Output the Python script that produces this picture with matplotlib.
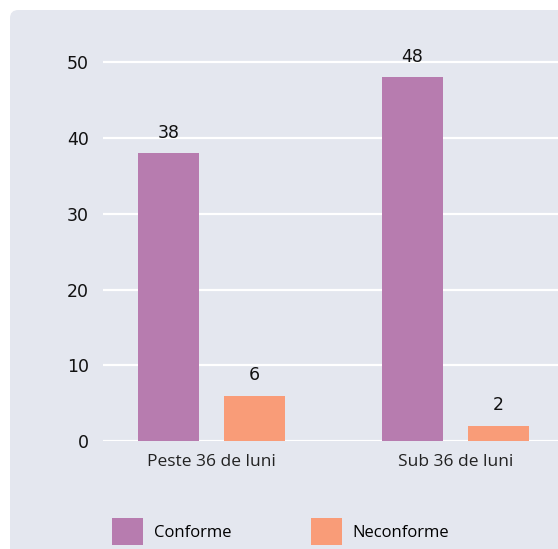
import numpy as np
import matplotlib.pyplot as plt
from matplotlib.patches import FancyBboxPatch, Patch

categories = ['Peste 36 de luni', 'Sub 36 de luni']
conforme = [38, 48]
neconforme = [6, 2]
series_names = ['Conforme', 'Neconforme']
yticks = [0, 10, 20, 30, 40, 50]

purple = '#b77caf'
orange = '#f99c78'
panel = '#e4e7ef'

plt.rcParams['font.family'] = ['Open Sans', 'DejaVu Sans']

fig = plt.figure(figsize=(5.58, 5.49), dpi=100)
fig.patch.set_facecolor('white')

# rounded grey panel, cut off at right and bottom
W, H = 558, 549
bg = FancyBboxPatch((10 / W, -0.05), 1.1, 1 - 10 / H + 0.05,
                    boxstyle='round,pad=0,rounding_size=0.015',
                    transform=fig.transFigure, facecolor=panel,
                    edgecolor='none', zorder=-5)
fig.patches.append(bg)

ax = fig.add_axes([103 / W, (H - 441) / H, 1 - 103 / W, 409 / H])
ax.set_zorder(2)
ax.set_facecolor('none')

x = np.arange(len(categories))
w = 0.25
off = 0.176
b1 = ax.bar(x - off, conforme, w, color=purple, zorder=3)
b2 = ax.bar(x + off, neconforme, w, color=orange, zorder=3)

for bars, vals in [(b1, conforme), (b2, neconforme)]:
    for r, v in zip(bars, vals):
        ax.text(r.get_x() + r.get_width() / 2, v + 1.5, str(v),
                ha='center', va='bottom', fontsize=12.5,
                color='#111111', family='DejaVu Sans')

ax.set_xlim(-0.445, 1.42)
ax.set_ylim(0, 54)
ax.set_yticks(yticks)
ax.set_xticks(x)
ax.set_xticklabels(categories)
ax.tick_params(axis='y', length=0, pad=10, labelsize=12.5, labelcolor='#111111')
ax.tick_params(axis='x', length=0, pad=9, labelsize=12.5, labelcolor='#222222')
for lab in ax.get_yticklabels():
    lab.set_family('DejaVu Sans')
ax.yaxis.grid(True, color='white', linewidth=1.6, zorder=1)
ax.set_axisbelow(True)
for s in ax.spines.values():
    s.set_visible(False)

handles = [Patch(facecolor=purple, edgecolor='none'),
           Patch(facecolor=orange, edgecolor='none')]
leg = fig.legend(handles, series_names, loc='upper left',
                 bbox_to_anchor=(112 / W, 1 - 518 / H), ncol=2, frameon=False,
                 fontsize=12, handlelength=1.85, handleheight=2.1,
                 handletextpad=0.65, columnspacing=4.8, borderpad=0,
                 borderaxespad=0)
leg.set_zorder(3)

fig.savefig('out.png', dpi=100, facecolor='white')
